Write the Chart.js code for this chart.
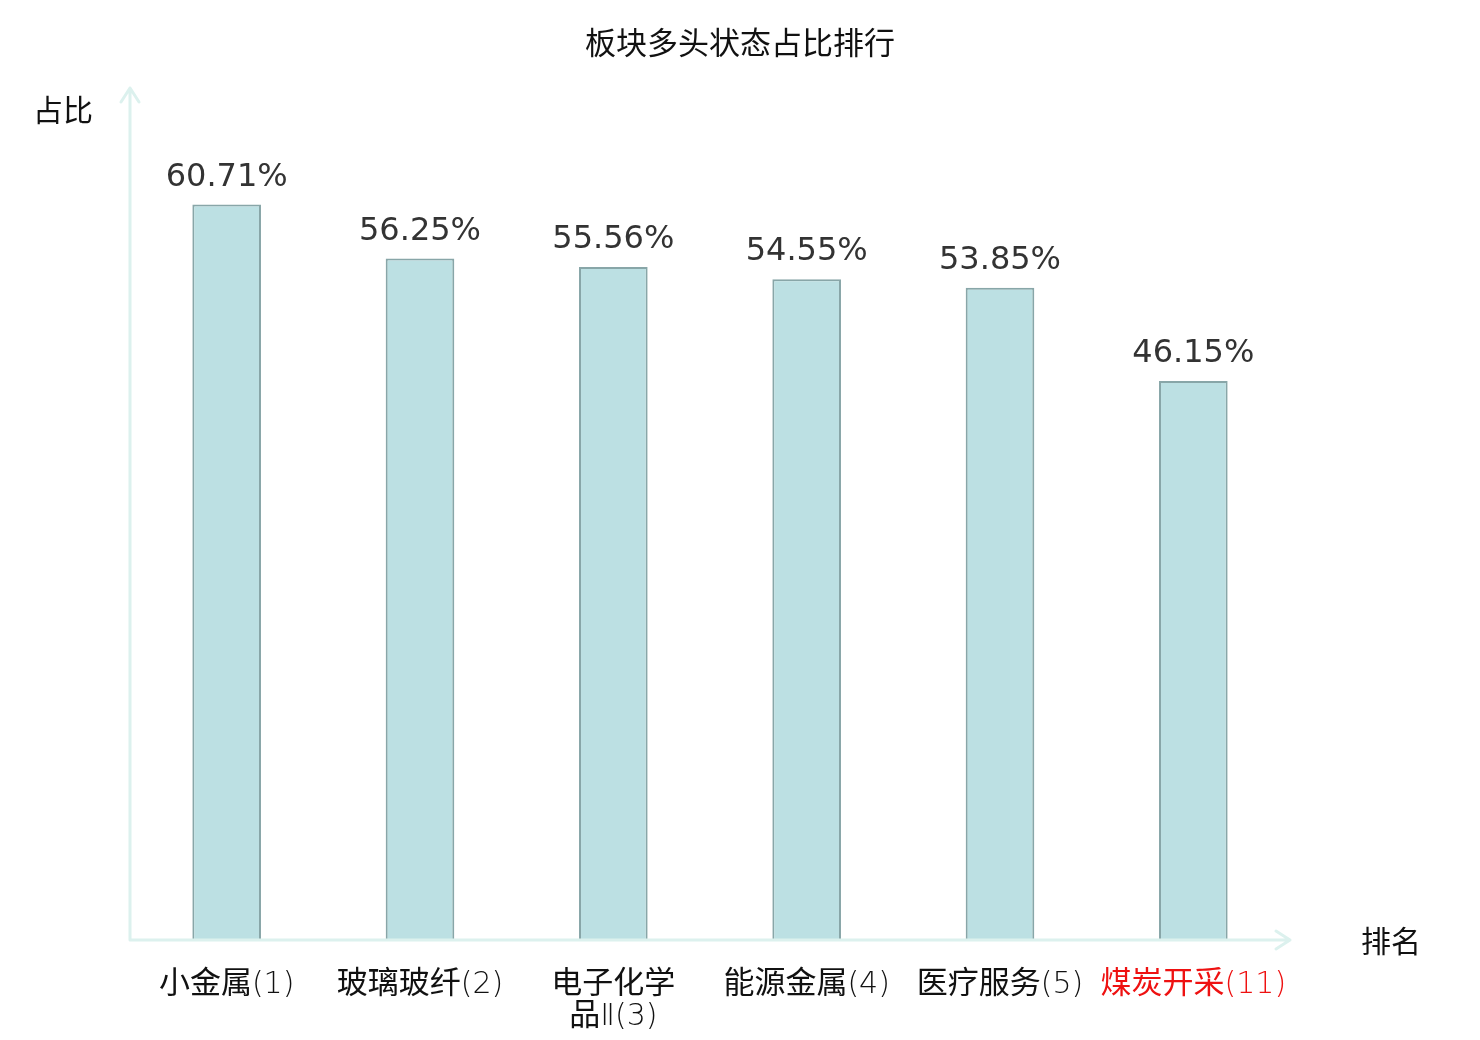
<!DOCTYPE html>
<html>
<head>
<meta charset="utf-8">
<script src="https://cdn.jsdelivr.net/npm/chart.js@4.4.1/dist/chart.umd.min.js"></script>
<style>
  html, body { margin: 0; padding: 0; background: #ffffff; }
  #wrap { width: 1480px; height: 1040px; }
</style>
</head>
<body>
<div id="wrap"><canvas id="c" width="1480" height="1040"></canvas></div>
<script>
// ---- data ----
const chartTitle = "板块多头状态占比排行";
const yAxisName = "占比";
const xAxisName = "排名";
const categories = [
  ["小金属(1)"],
  ["玻璃玻纤(2)"],
  ["电子化学", "品Ⅱ(3)"],
  ["能源金属(4)"],
  ["医疗服务(5)"],
  ["煤炭开采(11)"]
];
const shares = [60.71, 56.25, 55.56, 54.55, 53.85, 46.15];
const highlightIndex = [5];
const yMax = 70;

const axisColor = "#dcf1ee";
const cjkFont = "31px 'Noto Sans CJK SC'";
const latinFont = "200 30px 'DejaVu Sans'";

function splitRuns(s) {
  const runs = [];
  for (const ch of s) {
    const cjk = /[\u3000-\u9fff\uff00-\uffef]/.test(ch);
    const last = runs[runs.length - 1];
    if (last && last.cjk === cjk) last.t += ch; else runs.push({ t: ch, cjk });
  }
  return runs;
}

function drawMixed(ctx, text, cx, baseY, color) {
  const runs = splitRuns(text);
  let total = 0;
  runs.forEach(r => { ctx.font = r.cjk ? cjkFont : latinFont; r.w = ctx.measureText(r.t).width; total += r.w; });
  let x = cx - total / 2;
  ctx.fillStyle = color;
  ctx.textAlign = "left";
  ctx.textBaseline = "alphabetic";
  runs.forEach(r => { ctx.font = r.cjk ? cjkFont : latinFont; ctx.fillText(r.t, x, baseY); x += r.w; });
}

const decorPlugin = {
  id: "decor",
  afterDraw(chart) {
    const ctx = chart.ctx;
    const area = chart.chartArea;
    const xs = chart.scales.x, ys = chart.scales.y;
    ctx.save();
    // title
    ctx.fillStyle = "#111";
    ctx.font = "31px 'Noto Sans CJK SC'";
    ctx.textAlign = "center";
    ctx.textBaseline = "middle";
    ctx.fillText(chartTitle, 740, 42);
    // axis lines with arrows
    ctx.strokeStyle = axisColor;
    ctx.lineWidth = 3;
    ctx.lineCap = "round";
    ctx.lineJoin = "round";
    const x0 = area.left, y0 = ys.getPixelForValue(0);
    const yTop = ys.getPixelForValue(yMax) - 4;
    const xRight = area.right;
    ctx.beginPath();
    ctx.moveTo(x0, y0); ctx.lineTo(x0, yTop);
    ctx.moveTo(x0 - 9, yTop + 14); ctx.lineTo(x0, yTop); ctx.lineTo(x0 + 9, yTop + 14);
    ctx.moveTo(x0, y0); ctx.lineTo(xRight, y0);
    ctx.moveTo(xRight - 14, y0 - 9); ctx.lineTo(xRight, y0); ctx.lineTo(xRight - 14, y0 + 9);
    ctx.stroke();
    // axis names
    ctx.fillStyle = "#111";
    ctx.font = "30px 'Noto Sans CJK SC'";
    ctx.fillText(yAxisName, 63, 110);
    ctx.fillText(xAxisName, 1391, 941);
    // category labels
    categories.forEach((lines, i) => {
      const cx = xs.getPixelForTick(i);
      const color = highlightIndex.includes(i) ? "#ee1111" : "#111";
      lines.forEach((ln, k) => drawMixed(ctx, ln, cx, y0 + 53 + k * 32, color));
    });
    // value labels
    ctx.fillStyle = "#333";
    ctx.font = "32px 'DejaVu Sans'";
    ctx.textAlign = "center";
    ctx.textBaseline = "alphabetic";
    const meta = chart.getDatasetMeta(0);
    meta.data.forEach((bar, i) => {
      ctx.fillText(shares[i].toFixed(2) + "%", bar.x, bar.y - 19);
    });
    ctx.restore();
  }
};

new Chart(document.getElementById("c"), {
  type: "bar",
  data: {
    labels: categories.map(l => l.join("")),
    datasets: [{
      data: shares,
      backgroundColor: "#bce0e3",
      borderColor: "#88a6a8",
      borderWidth: 2,
      barPercentage: 0.355,
      categoryPercentage: 1.0
    }]
  },
  options: {
    responsive: false,
    animation: false,
    devicePixelRatio: 1,
    layout: { padding: { left: 130, right: 190, top: 92, bottom: 0 } },
    plugins: { legend: { display: false }, tooltip: { enabled: false }, title: { display: false } },
    scales: {
      x: {
        grid: { display: false, drawTicks: false },
        border: { display: false },
        ticks: { display: false, autoSkip: false },
        afterFit(scale) { scale.height = 100; }
      },
      y: {
        display: false,
        min: 0,
        max: yMax
      }
    }
  },
  plugins: [decorPlugin]
});
</script>
</body>
</html>
